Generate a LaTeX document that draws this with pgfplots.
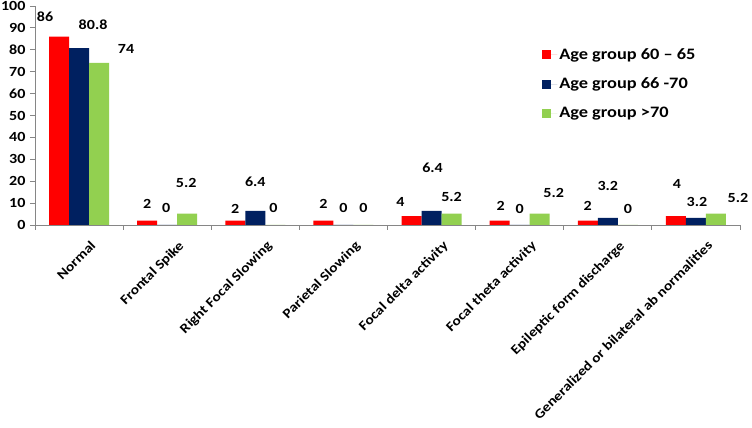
\documentclass[border=0pt]{standalone}
\usepackage{pgfplots}
\pgfplotsset{compat=1.18}
\usepackage{fontspec}
\setmainfont{Carlito}[FakeStretch=1.15]

\definecolor{gA}{HTML}{FF0000}
\definecolor{gB}{HTML}{002060}
\definecolor{gC}{HTML}{92D050}
\definecolor{axgray}{HTML}{868686}

\begin{document}
\begin{tikzpicture}
\useasboundingbox (0,0) rectangle (752bp,428bp);
\begin{axis}[
    at={(35bp,203bp)}, anchor=south west,
    scale only axis, width=705bp, height=219bp,
    xmin=-0.5, xmax=7.5, ymin=0, ymax=100,
    axis x line*=bottom, axis y line*=left,
    axis line style={axgray, line width=0.8bp},
    ytick={0,10,...,100},
    xtick={0,...,7},
    xticklabels={Normal, Frontal Spike, Right Focal Slowing, Parietal Slowing,
        Focal delta activity, Focal theta activity, Epileptic form discharge,
        Generalized or bilateral ab normalities},
    minor xtick={-0.5,0.5,...,7.5},
    every major x tick/.append style={draw=none},
    tick align=outside,
    major tick length=5bp, minor tick length=5bp,
    tick style={axgray, line width=0.8bp},
    /pgf/number format/assume math mode=true,
    yticklabel style={font=\fontsize{14}{14}\selectfont\bfseries, xshift=-1bp},
    xticklabel style={font=\fontsize{13.5}{13.5}\selectfont\bfseries,
        rotate=45, anchor=north east, xshift=4bp, yshift=-11bp},
    legend style={at={(0.715,0.825)}, anchor=north west, draw=none, fill=none,
        font=\fontsize{16}{16}\selectfont\bfseries, row sep=13bp},
    legend cell align=left,
    legend image code/.code={\path[#1, draw=none] (0bp,-4.5bp) rectangle (9bp,4.5bp);
        \path (0bp,0bp) -- (15bp,0bp);},
]
\addplot[ybar, bar width=20bp, bar shift=-20bp, fill=gA, draw=none]
    coordinates {(0,86) (1,2) (2,2) (3,2) (4,4) (5,2) (6,2) (7,4)};
\addlegendentry{Age group 60 -- 65}
\addplot[ybar, bar width=20bp, bar shift=0bp, fill=gB, draw=none]
    coordinates {(0,80.8) (1,0) (2,6.4) (3,0) (4,6.4) (5,0) (6,3.2) (7,3.2)};
\addlegendentry{Age group 66 -70}
\addplot[ybar, bar width=20bp, bar shift=20bp, fill=gC, draw=none]
    coordinates {(0,74) (1,5.2) (2,0) (3,0) (4,5.2) (5,5.2) (6,0) (7,5.2)};
\addlegendentry{Age group >70}
% data labels, at the places where the reference puts them
\addplot[draw=none, mark=none, forget plot,
    nodes near coords, point meta=explicit symbolic,
    every node near coord/.append style={anchor=center, inner sep=0pt,
        font=\fontsize{14}{14}\selectfont\bfseries}]
    table[meta=lab] {
x      y     lab
-0.386 95.0  86
0.159  91.3  80.8
0.534  80.4  74
0.773  9.6   2
0.989  7.8   0
1.216  19.2  5.2
1.773  7.3   2
2.000  19.6  6.4
2.205  7.8   0
2.773  9.6   2
3.000  7.8   0
3.227  7.8   0
3.648  10.5  4
4.011  26.0  6.4
4.227  12.8  5.2
4.784  8.7   2
5.000  7.3   0
5.386  14.6  5.2
5.773  8.7   2
6.000  17.8  3.2
6.227  7.3   0
6.784  18.7  4
7.011  10.5  3.2
7.477  12.3  5.2
};
\end{axis}
\end{tikzpicture}
\end{document}
